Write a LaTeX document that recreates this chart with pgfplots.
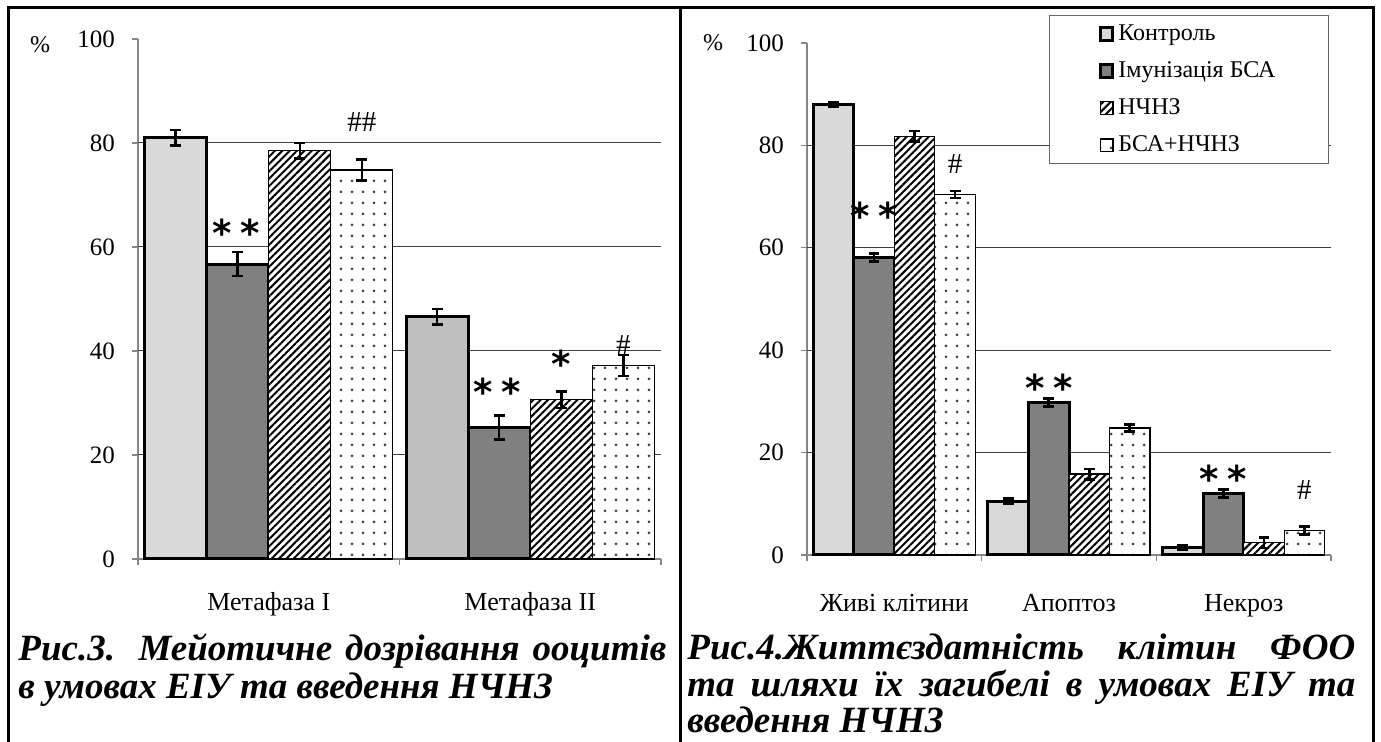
\documentclass[border=0pt]{standalone}
\usepackage{fontspec}
\setmainfont{Liberation Serif}
\newfontfamily\capfont{Liberation Serif}
\newfontfamily\symfont{DejaVu Sans}
\usepackage{pgfplots}
\usepackage{pgfplotstable}
\pgfplotsset{compat=1.18}
\usetikzlibrary{patterns.meta}

\definecolor{ctrl}{HTML}{D9D9D9}
\definecolor{ctrldark}{HTML}{BFBFBF}
\definecolor{imun}{HTML}{808080}
\definecolor{axisgray}{HTML}{868686}

\pgfplotsset{
  panel/.style={
    scale only axis,
    ymin=0, ymax=100,
    axis x line=bottom, axis y line=left,
    axis line style={-, draw=axisgray, line width=0.6pt},
    tick align=outside,
    major tick length=3pt,
    tick style={draw=axisgray, line width=0.6pt},
    ytick={0,20,...,100},
    /pgf/number format/assume math mode=true,
    yticklabel style={font=\fontsize{12.5}{14}\selectfont, xshift=-5pt},
    extra y ticks={20,40,60,80},
    extra y tick labels={},
    extra y tick style={grid=major, major tick length=0pt},
    major grid style={black!75, line width=0.5pt},
    xticklabels={},
    extra x tick style={major tick length=0pt},
    extra x tick labels={},
    ybar,
    error bars/y dir=both, error bars/y explicit,
    error bars/error bar style={draw=black, line width=1.3pt, solid},
    error bars/error mark options={rotate=90, draw=black, line width=1.3pt, mark size=2.7pt},
    clip=false,
  },
  ctrlbar/.style={fill=ctrl, draw=black, line width=1.5pt},
  ctrlbardark/.style={fill=ctrldark, draw=black, line width=1.5pt},
  imunbar/.style={fill=imun, draw=black, line width=1.5pt},
  hatchbar/.style={fill=white, draw=black, line width=0.6pt,
    postaction={pattern={Lines[angle=45, distance=2.6pt, line width=1pt]}, pattern color=black}},
  dotbar/.style={fill=white, draw=black, line width=0.6pt,
    postaction={pattern={Dots[distance=5.5pt, radius=0.75pt]}, pattern color=black!75}},
  sq/.style={legend image code/.code={\draw[##1] (0pt,-3.2pt) rectangle (6.4pt,3.2pt);}},
}

\newcommand{\signif}[1]{{\symfont\bfseries\fontsize{18.5}{18.5}\selectfont #1}}
\newcommand{\two}{*\hspace{0.23em}*}
\newcommand{\hsh}[1]{{\fontsize{14.5}{14.5}\selectfont #1}}

\begin{document}
\begin{tikzpicture}
\useasboundingbox (0,0) rectangle (690.5pt,371pt);

% frame of the two-cell table
\draw[line width=1.5pt] (4pt,0) -- (4pt,367pt) -- (686.5pt,367pt) -- (686.5pt,0);
\draw[line width=1.5pt] (340pt,0) -- (340pt,367pt);

% ---------- Fig. 3: meiotic maturation ----------
\begin{axis}[panel,
  at={(69pt,91.5pt)}, anchor=south west,
  width=261.5pt, height=260pt,
  xmin=-0.5, xmax=1.5,
  xtick={-0.5,0.5,1.5},
  extra x ticks={0,1},
  extra x tick labels={Метафаза I, Метафаза II},
  extra x tick style={xticklabel style={font=\fontsize{13}{15}\selectfont, yshift=-13pt}},
  bar width=0.237,
]
\addplot[ctrlbar, bar shift=-0.356] coordinates {(0,81.0) +- (0,1.5)};
\addplot[ctrlbardark, bar shift=-0.356] coordinates {(1,46.6) +- (0,1.5)};
\addplot[imunbar, bar shift=-0.119] coordinates {(0,56.7) +- (0,2.3) (1,25.3) +- (0,2.3)};
\addplot[hatchbar, bar shift=0.119] coordinates {(0,78.5) +- (0,1.5) (1,30.6) +- (0,1.6)};
\addplot[dotbar, bar shift=0.356] coordinates {(0,74.8) +- (0,2.0) (1,37.2) +- (0,2.0)};

\node[anchor=base] at (axis cs:-0.125,60.1) {\signif{\two}};
\node[anchor=base] at (axis cs:0.356,82.2) {\hsh{\#\#}};
\node[anchor=base] at (axis cs:0.875,29.5) {\signif{\two}};
\node[anchor=base] at (axis cs:1.119,34.9) {\signif{*}};
\node[anchor=base] at (axis cs:1.356,39.3) {\hsh{\#}};
\node at (axis cs:-0.5,100) [xshift=-49pt, yshift=-3pt] {\fontsize{12}{14}\selectfont \%};
\end{axis}

% ---------- Fig. 4: follicle cell viability ----------
\begin{axis}[panel,
  at={(403.5pt,93.5pt)}, anchor=south west,
  width=262pt, height=256pt,
  xmin=-0.5, xmax=2.5,
  xtick={-0.5,0.5,1.5,2.5},
  extra x ticks={0,1,2},
  extra x tick labels={Живі клітини, Апоптоз, Некроз},
  extra x tick style={xticklabel style={font=\fontsize{13}{15}\selectfont, yshift=-16pt}},
  bar width=0.232,
  legend style={at={(0.462,1.055)}, anchor=north west, draw=black!60, fill=white,
    line width=0.5pt, font=\fontsize{12}{14}\selectfont,
    inner xsep=24.5pt, inner ysep=2.5pt, row sep=5.2pt},
  legend cell align=left,
]
\addplot[ctrlbar, sq, bar shift=-0.348] coordinates {(0,88.0) +- (0,0.5) (1,10.5) +- (0,0.5) (2,1.5) +- (0,0.4)};
\addplot[imunbar, sq, bar shift=-0.116] coordinates {(0,58.1) +- (0,0.8) (1,29.8) +- (0,0.8) (2,12.0) +- (0,0.8)};
\addplot[hatchbar, sq, bar shift=0.116] coordinates {(0,81.8) +- (0,1.0) (1,15.8) +- (0,1.0) (2,2.4) +- (0,1.0)};
\addplot[dotbar, sq, bar shift=0.348] coordinates {(0,70.4) +- (0,0.7) (1,24.8) +- (0,0.7) (2,4.8) +- (0,0.8)};
\legend{Контроль, Імунізація БСА, НЧНЗ, БСА+НЧНЗ}

\node[anchor=base] at (axis cs:-0.116,63.5) {\signif{\two}};
\node[anchor=base] at (axis cs:0.348,74.5) {\hsh{\#}};
\node[anchor=base] at (axis cs:0.884,29.9) {\signif{\two}};
\node[anchor=base] at (axis cs:1.884,12.3) {\signif{\two}};
\node[anchor=base] at (axis cs:2.348,10.8) {\hsh{\#}};
\node at (axis cs:-0.5,100) [xshift=-47pt, yshift=0pt] {\fontsize{12}{14}\selectfont \%};
\end{axis}

% captions
\begin{scope}[every node/.style={inner sep=0pt, anchor=base west}]
\capfont\bfseries\itshape\fontsize{18.5}{20}\selectfont
\node at (9pt,40.5pt) {\makebox[324pt][s]{Рис.3. Мейотичне дозрівання ооцитів}};
\node at (9pt,21.5pt) {в умовах ЕІУ та введення НЧНЗ};
\node at (343.5pt,41pt) {\makebox[334pt][s]{Рис.4.Життєздатність клітин ФОО}};
\node at (343.5pt,22.5pt) {\makebox[334pt][s]{та шляхи їх загибелі в умовах ЕІУ та}};
\node at (343.5pt,4.5pt) {введення НЧНЗ};
\end{scope}
\end{tikzpicture}
\end{document}
